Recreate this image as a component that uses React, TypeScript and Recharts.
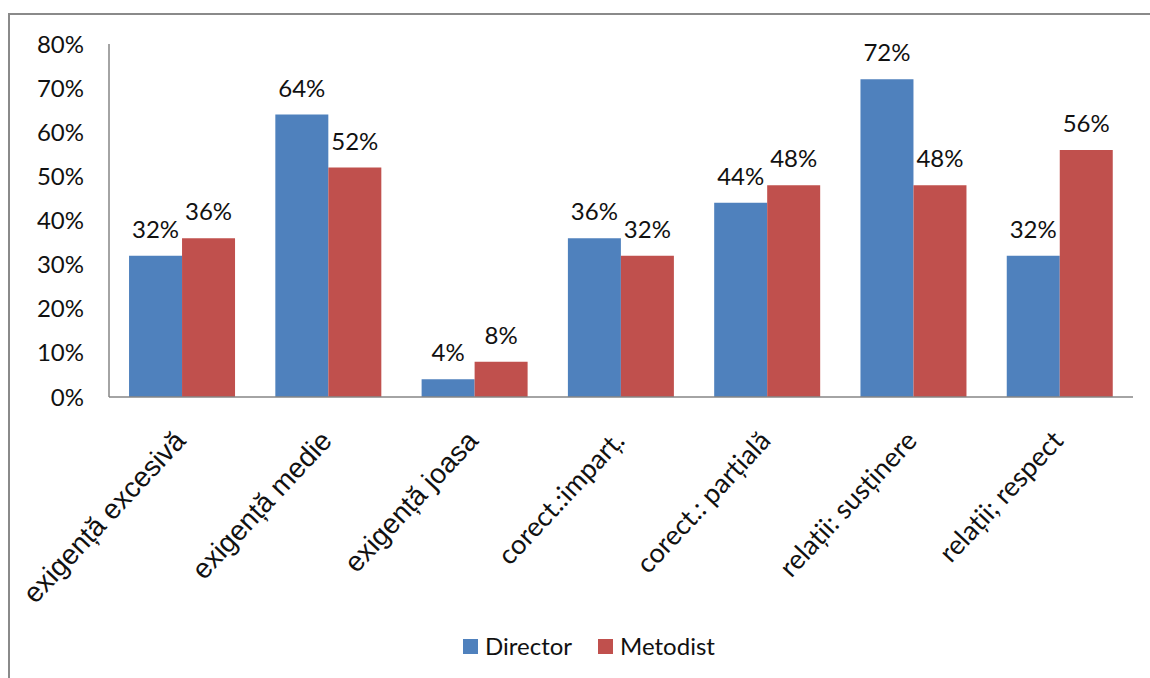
import React from 'react';
import { BarChart, Bar, XAxis, YAxis, Legend, LabelList } from 'recharts';

const categories = [
  'exigență excesivă',
  'exigență medie',
  'exigență joasa',
  'corect.:imparț.',
  'corect.: parțială',
  'relații: susținere',
  'relații; respect',
];
const directorValues = [32, 64, 4, 36, 44, 72, 32];
const metodistValues = [36, 52, 8, 32, 48, 48, 56];
const yTicks = [0, 10, 20, 30, 40, 50, 60, 70, 80];

const seriesInfo = [
  { key: 'director', name: 'Director', color: '#4F81BD' },
  { key: 'metodist', name: 'Metodist', color: '#C0504D' },
];

const data = categories.map((c, i) => ({
  name: c,
  director: directorValues[i],
  metodist: metodistValues[i],
}));

const CAL = 'Lato, "Open Sans", sans-serif';
const ARIAL = '"Liberation Sans", Arial, sans-serif';

const XTick = (props: any) => {
  const { x, y, payload, index } = props;
  const ax = x + 5;
  const ay = y + 45;
  const arialStyle = index < 3;
  return (
    <text
      x={ax}
      y={ay}
      transform={`rotate(-47 ${ax} ${ay})`}
      textAnchor="end"
      fontFamily={arialStyle ? ARIAL : CAL}
      fontSize={arialStyle ? 28 : 27}
      fill="#111"
    >
      {payload.value}
    </text>
  );
};

const LegendContent = () => (
  <div
    style={{
      height: 40,
      display: 'flex',
      alignItems: 'flex-start',
      paddingLeft: 455,
      fontFamily: CAL,
      fontSize: 24,
      color: '#111',
    }}
  >
    {seriesInfo.map((s, i) => (
      <div
        key={s.key}
        style={{ display: 'flex', alignItems: 'center', height: 16, marginRight: i === 0 ? 26 : 0 }}
      >
        <div style={{ width: 15, height: 15, background: s.color, marginRight: 7 }} />
        <span style={{ lineHeight: '16px' }}>{s.name}</span>
      </div>
    ))}
  </div>
);

export default function App() {
  return (
    <div style={{ position: 'fixed', left: 0, top: 0, width: 1150, height: 678, overflow: 'hidden', background: '#fff' }}>
      <div
        style={{
          position: 'absolute',
          left: 8,
          top: 13,
          width: 1142,
          height: 665,
          borderLeft: '2px solid #8a8a8a',
          borderTop: '2px solid #8a8a8a',
          boxSizing: 'border-box',
        }}
      />
      <div style={{ position: 'absolute', left: 8, top: 8 }}>
        <BarChart
          width={1142}
          height={670}
          data={data}
          margin={{ top: 36, right: 17, left: 0, bottom: 0 }}
          barCategoryGap="13.7%"
          barGap={0}
        >
          <XAxis
            dataKey="name"
            interval={0}
            height={241}
            tickSize={0}
            tickMargin={0}
            tick={<XTick />}
            axisLine={{ stroke: '#868686', strokeWidth: 1.5 }}
            tickLine={false}
          />
          <YAxis
            width={101}
            domain={[0, 80]}
            ticks={yTicks}
            interval={0}
            tickFormatter={(v: number) => `${v}%`}
            tickSize={0}
            tickMargin={25}
            tick={{ fontFamily: CAL, fontSize: 24, fill: '#111' }}
            axisLine={{ stroke: '#868686', strokeWidth: 1.5 }}
            tickLine={false}
          />
          <Legend verticalAlign="bottom" content={<LegendContent />} />
          {seriesInfo.map((s) => (
            <Bar key={s.key} dataKey={s.key} name={s.name} fill={s.color} isAnimationActive={false}>
              <LabelList
                dataKey={s.key}
                position="top"
                offset={18}
                formatter={(v: number) => `${v}%`}
                style={{ fontFamily: CAL, fontSize: 24, fill: '#111' }}
              />
            </Bar>
          ))}
        </BarChart>
      </div>
    </div>
  );
}
